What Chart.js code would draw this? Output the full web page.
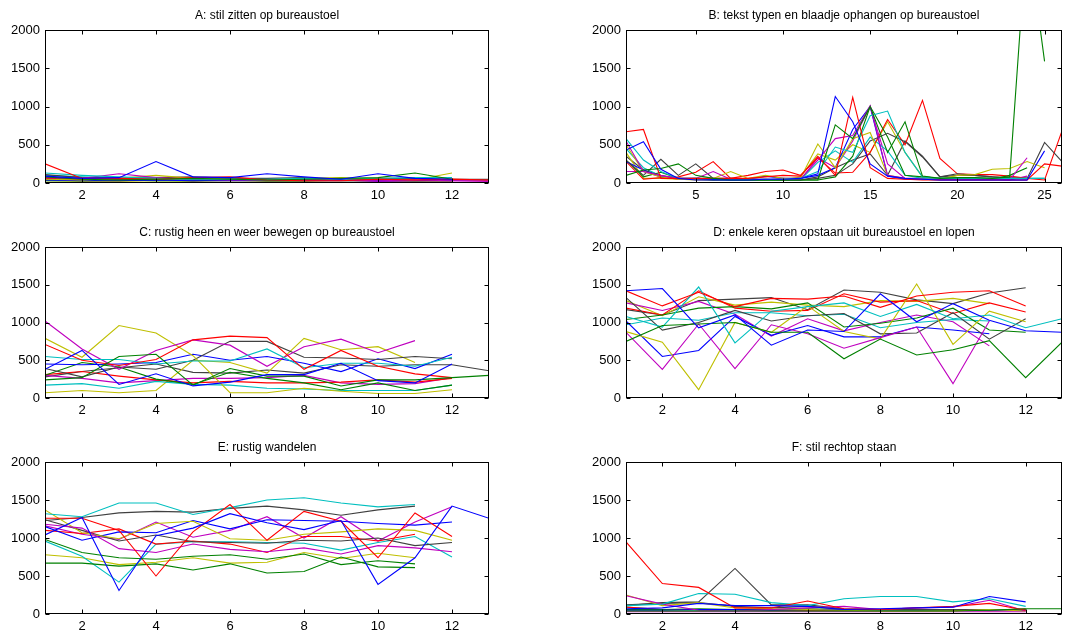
<!DOCTYPE html>
<html>
<head>
<meta charset="utf-8">
<script src="https://cdn.jsdelivr.net/npm/chart.js@4"></script>
<style>
  body { margin: 0; background: #fff; width: 1071px; height: 634px; overflow: hidden; position: relative; }
  canvas { position: absolute; }
</style>
</head>
<body>
<canvas id="pA"></canvas>
<canvas id="pB"></canvas>
<canvas id="pC"></canvas>
<canvas id="pD"></canvas>
<canvas id="pE"></canvas>
<canvas id="pF"></canvas>
<script>
// old MATLAB line colour order
const colorCycle = ['#0000ff', '#008000', '#ff0000', '#00bfbf', '#bf00bf', '#bfbf00', '#404040'];

const yTicks = [0, 500, 1000, 1500, 2000];
const xTicksShort = [2, 4, 6, 8, 10, 12];
const xTicksLong = [5, 10, 15, 20, 25];

const titles = [
  'A: stil zitten op bureaustoel',
  'B: tekst typen en blaadje ophangen op bureaustoel',
  'C: rustig heen en weer bewegen op bureaustoel',
  'D: enkele keren opstaan uit bureaustoel en lopen',
  'E: rustig wandelen',
  'F: stil rechtop staan'
];

const seriesA = [
  [90, 60, 70, 280, 80, 70, 120, 80, 50, 120, 60, 50],
  [80, 50, 40, 50, 60, 50, 40, 50, 60, 70, 130, 50],
  [250, 60, 60, 50, 70, 80, 40, 30, 30, 50, 40, 50, 40],
  [130, 100, 80, 60, 50, 50, 50, 60, 50, 60, 70, 70],
  [70, 60, 120, 70, 50, 40, 40, 40, 40, 30, 40, 30, 30],
  [50, 40, 60, 100, 60, 50, 40, 60, 70, 50, 40, 130],
  [110, 70, 60, 70, 80, 60, 60, 70, 40, 60, 60, 50, 50],
  [40, 30, 30, 40, 30, 30, 30, 30, 30, 30, 30, 30],
  [30, 30, 40, 30, 30, 40, 30, 30, 40, 40, 30, 40],
  [60, 50, 40, 50, 60, 60, 40, 40, 50, 40, 50, 40],
  [100, 80, 60, 60, 50, 50, 40, 60, 60, 40, 50, 40],
  [90, 40, 40, 40, 30, 40, 50, 40, 40, 20, 30, 30, 20],
  [30, 20, 20, 30, 20, 30, 20, 20, 30, 20, 20, 20],
  [50, 40, 40, 40, 40, 40, 40, 40, 50, 40, 40, 40, 40]
];

const seriesB = [
  [430, 540, 180, 60, 40, 40, 40, 40, 50, 50, 60, 120, 1130, 800, 250, 90, 60, 50, 40, 40, 40, 40, 40, 40, 420],
  [100, 170, 190, 250, 100, 60, 40, 40, 40, 40, 40, 40, 760, 580, 1000, 400, 800, 90, 60, 70, 70, 60, 80, 3300, 1590],
  [670, 700, 60, 60, 60, 60, 60, 60, 80, 100, 90, 350, 100, 1120, 200, 60, 50, 40, 40, 40, 40, 40, 40, 40, 250, 220],
  [580, 300, 150, 60, 60, 60, 50, 50, 50, 50, 60, 150, 470, 400, 880, 940, 400, 80, 60, 60, 60, 60, 60, 60, 60],
  [550, 150, 100, 60, 60, 150, 50, 50, 50, 50, 50, 300, 580, 620, 1010, 100, 60, 50, 50, 50, 50, 50, 40, 330],
  [500, 150, 80, 50, 50, 60, 150, 60, 100, 60, 60, 510, 200, 580, 660, 100, 60, 50, 50, 100, 110, 180, 190, 280, 200],
  [300, 100, 310, 100, 250, 60, 60, 50, 50, 40, 40, 60, 100, 250, 550, 650, 540, 340, 80, 120, 100, 80, 60, 60, 530, 280],
  [280, 170, 80, 60, 50, 50, 50, 50, 90, 60, 60, 100, 200, 700, 1000, 90, 50, 50, 40, 40, 40, 40, 40, 40],
  [300, 80, 140, 60, 50, 40, 40, 40, 40, 40, 40, 40, 80, 350, 1000, 600, 100, 80, 60, 60, 60, 50, 100, 200],
  [280, 50, 70, 80, 140, 280, 60, 100, 150, 170, 100, 330, 130, 140, 400, 830, 500, 1080, 320, 120, 110, 110, 90, 60, 40, 680],
  [450, 200, 90, 60, 60, 50, 40, 40, 40, 40, 40, 270, 420, 270, 600, 420, 100, 60, 60, 60, 60, 60, 60, 60, 60],
  [150, 150, 80, 50, 50, 60, 40, 40, 40, 60, 40, 330, 200, 550, 1000, 250, 60, 60, 50, 50, 50, 50, 40, 90],
  [400, 60, 60, 50, 40, 40, 60, 50, 40, 40, 80, 380, 300, 500, 400, 800, 400, 80, 60, 60, 60, 60, 60, 60],
  [350, 170, 100, 50, 60, 40, 40, 40, 40, 40, 40, 80, 200, 300, 380, 100, 550, 350, 80, 100, 100, 80, 70, 60]
];

const seriesC = [
  [380, 630, 180, 320, 160, 210, 310, 310, 460, 230, 200, 450],
  [240, 270, 550, 580, 170, 390, 290, 290, 160, 240, 240, 270, 300],
  [710, 500, 430, 510, 770, 820, 800, 380, 630, 420, 320, 270],
  [550, 510, 510, 450, 490, 490, 650, 400, 460, 460, 420, 540],
  [1020, 650, 380, 630, 770, 700, 420, 680, 780, 600, 760],
  [790, 540, 960, 860, 560, 70, 70, 130, 90, 60, 60, 110],
  [390, 280, 410, 380, 500, 750, 750, 540, 530, 510, 550, 520],
  [450, 440, 450, 470, 580, 500, 550, 460, 350, 520, 390, 580],
  [300, 470, 410, 250, 180, 340, 260, 200, 110, 200, 100, 170],
  [310, 350, 290, 240, 200, 220, 200, 200, 210, 240, 210, 260],
  [170, 190, 130, 220, 180, 170, 130, 120, 100, 100, 100, 170],
  [300, 260, 200, 230, 260, 260, 270, 300, 200, 180, 190, 270],
  [70, 100, 70, 100, 500, 470, 330, 790, 640, 680, 470],
  [280, 350, 400, 450, 340, 330, 370, 330, 440, 420, 440, 440, 360]
];

const seriesD = [
  [1420, 1450, 930, 1100, 700, 900, 880, 1380, 1010, 1250, 1030, 890, 870],
  [750, 960, 980, 1000, 870, 870, 520, 780, 570, 640, 760, 270, 740],
  [1420, 1220, 1400, 1210, 1320, 1310, 1350, 1200, 1350, 1400, 1420, 1220],
  [1080, 940, 1470, 730, 1150, 1210, 1260, 1080, 1240, 1050, 1100, 930, 1050],
  [870, 380, 980, 390, 970, 850, 660, 800, 940, 190, 1020],
  [880, 740, 110, 1000, 870, 1220, 880, 780, 1510, 710, 1150, 1010],
  [1330, 900, 1000, 1160, 1020, 1090, 1120, 850, 860, 1130, 780, 1050],
  [1020, 550, 630, 1080, 830, 960, 810, 810, 940, 900, 850],
  [1040, 1100, 1190, 1210, 1180, 1260, 940, 990, 1060, 1190, 900, 870],
  [1190, 1100, 1420, 1190, 1150, 1160, 1380, 1270, 1290, 1120, 1260, 1140],
  [970, 1060, 1030, 1130, 1130, 1090, 1110, 930, 1000, 1040, 1020],
  [1260, 1160, 1280, 1110, 820, 1050, 890, 1000, 1100, 1010, 690],
  [1290, 1090, 1340, 1230, 1270, 1230, 1210, 1290, 1280, 1320, 1250],
  [1170, 1100, 1290, 1310, 1330, 1170, 1430, 1400, 1300, 1250, 1390, 1460]
];

const seriesE = [
  [1040, 1270, 310, 1030, 1130, 1320, 1200, 1110, 1230, 390, 740, 1420, 1260],
  [980, 810, 740, 720, 760, 780, 720, 790, 650, 700, 660],
  [1260, 1260, 1100, 500, 1080, 1440, 970, 1350, 1220, 740, 1330, 1020],
  [1320, 1280, 1460, 1460, 1310, 1400, 1500, 1530, 1460, 1410, 1440],
  [1180, 1130, 860, 810, 920, 850, 820, 870, 790, 900, 870, 820],
  [1370, 1070, 990, 1190, 1220, 990, 970, 1050, 1080, 1120, 1100, 970],
  [1240, 1100, 960, 1040, 950, 940, 930, 970, 960, 1000, 900, 940],
  [1150, 970, 1080, 1070, 1230, 1120, 1240, 1230, 1220, 1190, 1170, 1210],
  [670, 670, 630, 660, 580, 660, 540, 560, 750, 620, 610],
  [1100, 1060, 1120, 920, 960, 920, 810, 1020, 1020, 960, 1050],
  [960, 760, 420, 920, 950, 950, 940, 930, 840, 940, 1020, 750],
  [1160, 1050, 980, 1210, 1010, 1100, 1280, 1000, 1280, 960, 1210, 1410],
  [780, 740, 650, 680, 740, 670, 680, 810, 730, 800, 740],
  [1230, 1270, 1330, 1350, 1340, 1390, 1420, 1370, 1300, 1370, 1420]
];

const seriesF = [
  [70, 80, 140, 110, 110, 100, 60, 70, 80, 90, 230, 160],
  [40, 40, 40, 40, 40, 40, 40, 40, 40, 40, 50, 70, 70],
  [950, 400, 350, 80, 80, 170, 70, 60, 80, 100, 140, 50],
  [110, 130, 270, 260, 150, 110, 200, 230, 230, 160, 200, 100],
  [240, 130, 50, 40, 60, 80, 100, 60, 80, 90, 180, 40],
  [250, 110, 150, 80, 70, 60, 50, 40, 40, 40, 60, 40],
  [110, 150, 160, 600, 120, 120, 70, 60, 60, 60, 60, 60],
  [50, 50, 60, 60, 50, 60, 60, 50, 50, 60, 50, 50],
  [60, 60, 70, 60, 60, 70, 60, 60, 50, 60, 60, 60],
  [90, 60, 60, 60, 50, 50, 50, 60, 60, 50, 50, 70],
  [90, 60, 50, 50, 50, 50, 50, 50, 60, 50, 60, 50],
  [30, 30, 30, 30, 30, 30, 30, 30, 30, 30, 30, 30],
  [40, 40, 40, 50, 40, 40, 40, 40, 40, 50, 40, 50],
  [120, 140, 150, 100, 80, 100, 60, 50, 50, 60, 50, 50]
];

// plot boxes: [left, top, right, bottom] of each axes area
const panels = [
  { id: 'pA', title: titles[0], series: seriesA, xMax: 13, xTicks: xTicksShort, box: [45, 30, 489, 183] },
  { id: 'pB', title: titles[1], series: seriesB, xMax: 26, xTicks: xTicksLong, box: [626, 30, 1062, 183] },
  { id: 'pC', title: titles[2], series: seriesC, xMax: 13, xTicks: xTicksShort, box: [45, 247, 489, 398] },
  { id: 'pD', title: titles[3], series: seriesD, xMax: 13, xTicks: xTicksShort, box: [626, 247, 1062, 398] },
  { id: 'pE', title: titles[4], series: seriesE, xMax: 13, xTicks: xTicksShort, box: [45, 462, 489, 614] },
  { id: 'pF', title: titles[5], series: seriesF, xMax: 13, xTicks: xTicksShort, box: [626, 462, 1062, 614] }
];

const fontFamily = '"Liberation Sans", Arial, Helvetica, sans-serif';
const padL = 45, padT = 30, padR = 10, padB = 30;

// box round the axes plus MATLAB style inward ticks on all four sides
const axesFrame = {
  id: 'axesFrame',
  afterDraw(chart) {
    const { ctx, chartArea: a, scales: { x, y } } = chart;
    const L = Math.round(a.left) + 0.5, R = Math.round(a.right) - 0.5;
    const T = Math.round(a.top) + 0.5, B = Math.round(a.bottom) - 0.5;
    ctx.save();
    ctx.strokeStyle = '#000';
    ctx.lineWidth = 1;
    ctx.beginPath();
    x.ticks.forEach(t => {
      const px = Math.round(x.getPixelForValue(t.value)) + 0.5;
      ctx.moveTo(px, B); ctx.lineTo(px, B - 4);
      ctx.moveTo(px, T); ctx.lineTo(px, T + 4);
    });
    y.ticks.forEach(t => {
      const py = Math.round(y.getPixelForValue(t.value)) + 0.5;
      ctx.moveTo(L, py); ctx.lineTo(L + 4, py);
      ctx.moveTo(R, py); ctx.lineTo(R - 4, py);
    });
    ctx.stroke();
    ctx.strokeRect(L, T, R - L, B - T);
    ctx.restore();
  }
};

function makePanel(p) {
  const [l, t, r, b] = p.box;
  const canvas = document.getElementById(p.id);
  canvas.width = r - l + padL + padR;
  canvas.height = b - t + padT + padB;
  canvas.style.left = (l - padL) + 'px';
  canvas.style.top = (t - padT) + 'px';

  const datasets = p.series.map((vals, i) => ({
    data: vals.map((v, k) => ({ x: k + 1, y: v })),
    borderColor: colorCycle[i % colorCycle.length],
    borderWidth: 1.1,
    pointRadius: 0,
    tension: 0,
    fill: false
  }));

  new Chart(canvas, {
    type: 'line',
    data: { datasets },
    options: {
      responsive: false,
      animation: false,
      devicePixelRatio: 1,
      layout: { padding: { left: 0, right: padR, top: 0, bottom: 0 } },
      plugins: {
        legend: { display: false },
        tooltip: { enabled: false },
        title: {
          display: true,
          text: p.title,
          fullSize: false,
          color: '#000',
          font: { family: fontFamily, size: 12, weight: 'normal' },
          padding: { top: 8, bottom: 7.6 }
        }
      },
      scales: {
        x: {
          type: 'linear',
          min: 1,
          max: p.xMax,
          afterBuildTicks: s => { s.ticks = p.xTicks.map(v => ({ value: v })); },
          afterFit: s => { s.height = padB; },
          grid: { display: false, drawTicks: false },
          border: { display: false },
          ticks: { color: '#000', font: { family: fontFamily, size: 13 }, padding: 5, maxRotation: 0, autoSkip: false, callback: v => String(v) }
        },
        y: {
          min: 0,
          max: 2000,
          afterBuildTicks: s => { s.ticks = yTicks.map(v => ({ value: v })); },
          afterFit: s => { s.width = padL; },
          grid: { display: false, drawTicks: false },
          border: { display: false },
          ticks: { color: '#000', font: { family: fontFamily, size: 13 }, padding: 5, callback: v => String(v) }
        }
      }
    },
    plugins: [axesFrame]
  });
}

panels.forEach(makePanel);
</script>
</body>
</html>
